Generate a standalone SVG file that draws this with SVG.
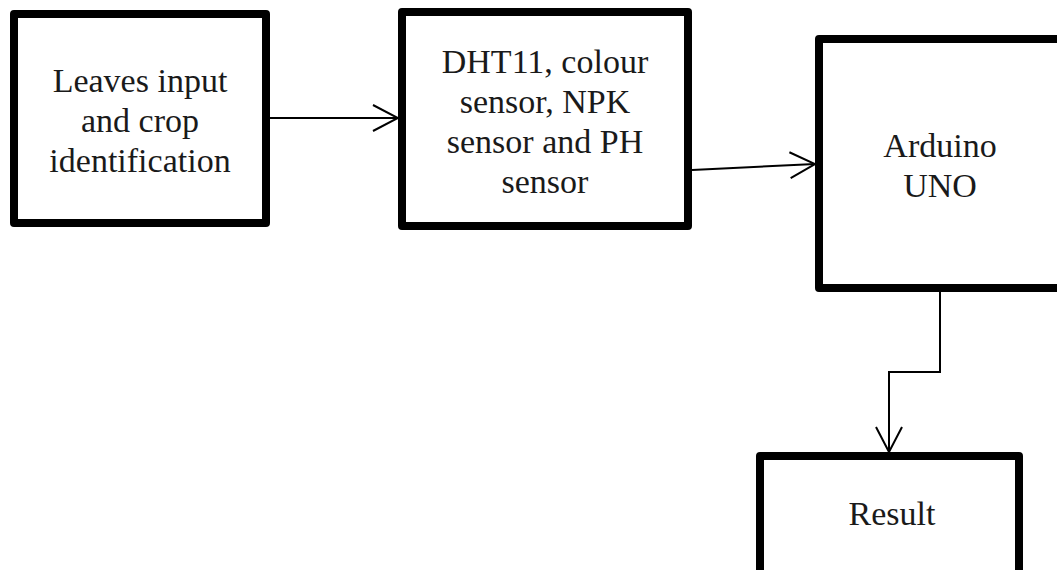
<svg xmlns="http://www.w3.org/2000/svg" width="1057" height="570" viewBox="0 0 1057 570">
<style>
.box{fill:#fff;stroke:#000;stroke-width:8;stroke-linejoin:round}
.lbl{font-family:"Liberation Serif","Times New Roman",serif;font-size:34px;fill:#1a1a1a;text-anchor:middle}
.conn{fill:none;stroke:#000;stroke-width:2}
</style>
<defs>
<marker id="arr" markerUnits="userSpaceOnUse" markerWidth="30" markerHeight="30" viewBox="-28 -15 30 30" refX="0" refY="0" orient="auto">
<path d="M-25,-13 L0,0 L-25,13" fill="none" stroke="#000" stroke-width="2"/>
</marker>
</defs>
<rect width="1057" height="570" fill="#fff"/>
<g id="connectors">
<line class="conn" x1="270" y1="118" x2="398" y2="118" marker-end="url(#arr)"/>
<line class="conn" x1="692" y1="170" x2="815" y2="164" marker-end="url(#arr)"/>
<polyline class="conn" points="940,292 940,372 889,372 889,452" marker-end="url(#arr)"/>
</g>
<g id="node-leaves">
<rect class="box" x="14" y="14" width="252" height="209"/>
<text class="lbl" x="140" y="92">Leaves input</text>
<text class="lbl" x="140" y="132">and crop</text>
<text class="lbl" x="140" y="172">identification</text>
</g>
<g id="node-sensors">
<rect class="box" x="402" y="12" width="286" height="214"/>
<text class="lbl" x="545" y="73">DHT11, colour</text>
<text class="lbl" x="545" y="113">sensor, NPK</text>
<text class="lbl" x="545" y="153">sensor and PH</text>
<text class="lbl" x="545" y="193">sensor</text>
</g>
<g id="node-arduino">
<rect class="box" x="819" y="39" width="250" height="249"/>
<text class="lbl" x="940" y="157">Arduino</text>
<text class="lbl" x="940" y="197">UNO</text>
</g>
<g id="node-result">
<rect class="box" x="760" y="456" width="259" height="130"/>
<text class="lbl" x="892" y="525">Result</text>
</g>
</svg>
